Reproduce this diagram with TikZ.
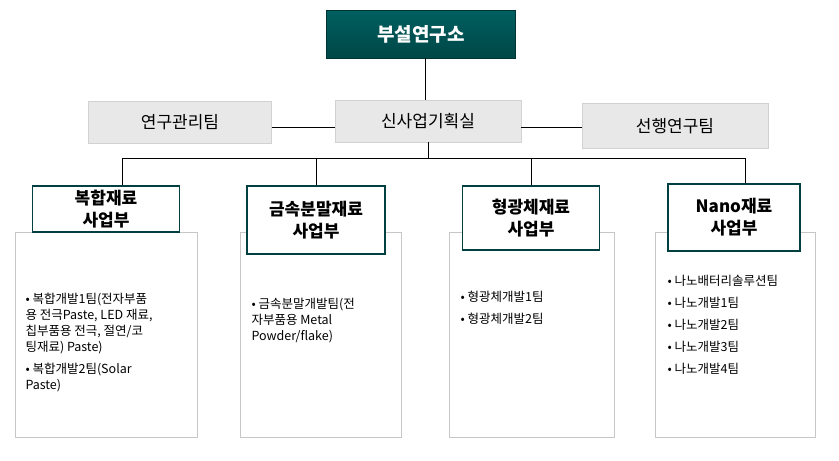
\documentclass[tikz,border=0pt]{standalone}
\usepackage{fontspec}
\setmainfont{Noto Sans CJK KR}
\begin{document}
\begin{tikzpicture}[x=1pt,y=-1pt,
  mid/.style={draw=gray!35,fill=gray!18,line width=0.8pt,font=\fontsize{17}{20}\selectfont},
  div/.style={draw=teal!50!black,fill=white,line width=1.8pt,font=\bfseries\fontsize{17}{22}\selectfont,align=center},
  cont/.style={draw=gray!45,fill=white,line width=0.6pt},
  ln/.style={line width=0.8pt},
  lst/.style={anchor=north west,align=left,font=\fontsize{12.5}{16}\selectfont}]
\useasboundingbox (0,0) rectangle (839,461);
\draw[cont] (15,232) rectangle (197,437);
\draw[cont] (240,232) rectangle (401,437);
\draw[cont] (449,232) rectangle (614,437);
\draw[cont] (655,232) rectangle (815,437);
\node[top color=teal!75!black,bottom color=teal!55!black,draw=teal!40!black,minimum width=189pt,minimum height=48pt,text=white,font=\bfseries\fontsize{19}{22}\selectfont] (top) at (421,34) {부설연구소};
\node[mid,minimum width=183pt,minimum height=42pt] (a) at (180,122) {연구관리팀};
\node[mid,minimum width=186pt,minimum height=42pt] (b) at (428,121) {신사업기획실};
\node[mid,minimum width=186pt,minimum height=45pt] (c) at (675,126) {선행연구팀};
\draw[ln] (425,58) -- (425,100);
\draw[ln] (a.east |- 0,127) -- (b.west |- 0,127);
\draw[ln] (b.east |- 0,127) -- (c.west |- 0,127);
\coordinate (h) at (428,158);
\draw[ln] (b.south) -- (h);
\node[div,minimum width=147pt,minimum height=46pt,anchor=north] (d1) at (106,185) {복합재료\\사업부};
\node[div,minimum width=138pt,minimum height=68pt,anchor=north] (d2) at (316,185) {금속분말재료\\사업부};
\node[div,minimum width=137pt,minimum height=64pt,anchor=north] (d3) at (531,185) {형광체재료\\사업부};
\node[div,minimum width=132pt,minimum height=67pt,anchor=north] (d4) at (734,183) {Nano재료\\사업부};
\draw[ln] (122,185) -- (122,158) -- (745,158) -- (745,183);
\draw[ln] (316,158) -- (d2.north);
\draw[ln] (531,158) -- (d3.north);
\node[lst] (l1) at (22,290) {• 복합개발1팀(전자부품\\용 전극Paste, LED 재료,\\칩부품용 전극, 절연/코\\팅재료) Paste)\\[6pt]• 복합개발2팀(Solar\\Paste)};
\node[lst] (l2) at (248,295) {• 금속분말개발팀(전\\자부품용 Metal\\Powder/flake)};
\node[lst] (l3) at (457,288) {• 형광체개발1팀\\[6pt]• 형광체개발2팀};
\node[lst] (l4) at (664,272) {• 나노배터리솔루션팀\\[6pt]• 나노개발1팀\\[6pt]• 나노개발2팀\\[6pt]• 나노개발3팀\\[6pt]• 나노개발4팀};
\end{tikzpicture}
\end{document}
